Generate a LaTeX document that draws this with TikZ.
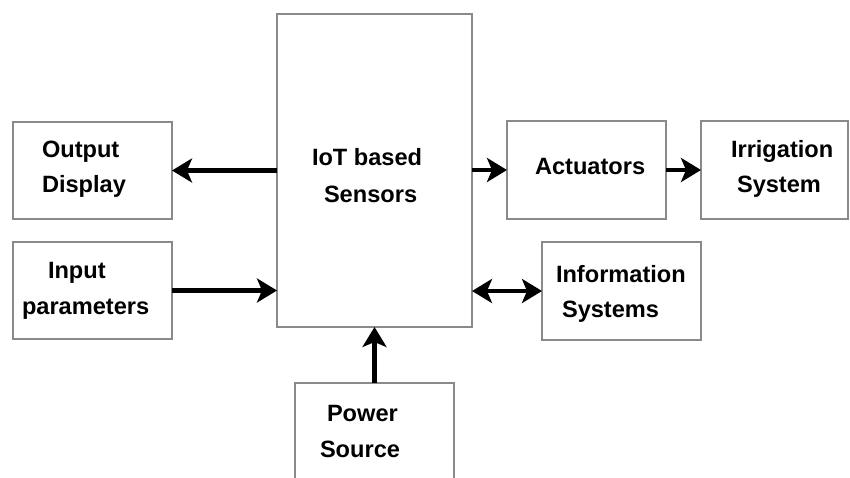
\documentclass[tikz,border=0pt]{standalone}
\usepackage{fontspec}
\setmainfont{Liberation Sans}
\usetikzlibrary{arrows.meta}
\definecolor{boxgray}{RGB}{138,138,138}
\begin{document}
\begin{tikzpicture}[x=1pt,y=-1pt,
  block/.style={draw=boxgray, line width=1.8pt, fill=white, inner sep=0pt, outer sep=0pt, anchor=north west},
  lbl/.style={anchor=base west, inner sep=0pt, outer sep=0pt, font=\fontsize{23.6}{27}\selectfont\bfseries},
  flow/.style={line width=4.5pt, -{Stealth[length=20pt,width=24pt,inset=5pt]}},
  biflow/.style={line width=4.5pt, {Stealth[length=20pt,width=24pt,inset=5pt]}-{Stealth[length=20pt,width=24pt,inset=5pt]}},
  ]
\useasboundingbox (0,0) rectangle (850,477);

% blocks
\node[block, minimum width=159pt, minimum height=97pt]  (out)  at (13,122)  {};
\node[block, minimum width=159pt, minimum height=97pt]  (inp)  at (13,242)  {};
\node[block, minimum width=195pt, minimum height=313pt] (iot)  at (277,14)  {};
\node[block, minimum width=159pt, minimum height=98pt]  (act)  at (507,121) {};
\node[block, minimum width=147pt, minimum height=98pt]  (irr)  at (701,121) {};
\node[block, minimum width=159pt, minimum height=98pt]  (info) at (542,242) {};
\node[block, minimum width=159pt, minimum height=110pt] (pow)  at (295,383) {};

% labels
\node[lbl] (outA)  at (42,157)  {Output};
\node[lbl] (outB)  at (42,192)  {Display};
\node[lbl] (inpA)  at (48,278)  {Input};
\node[lbl] (inpB)  at (22,314)  {parameters};
\node[lbl] (iotA)  at (312,165) {IoT based};
\node[lbl] (iotB)  at (324,202) {Sensors};
\node[lbl] (actA)  at (535,174) {Actuators};
\node[lbl] (irrA)  at (731,157) {Irrigation};
\node[lbl] (irrB)  at (737,192) {System};
\node[lbl] (infoA) at (556,282) {Information};
\node[lbl] (infoB) at (562,317) {Systems};
\node[lbl] (powA)  at (327,421) {Power};
\node[lbl] (powB)  at (320,457) {Source};

% connectors
\draw[flow]   (iot.west |- out.east) -- (out.east);
\draw[flow]   (inp.east) -- (iot.west |- inp.east);
\draw[flow]   (iot.east |- act.west) -- (act.west);
\draw[flow]   (act.east) -- (irr.west);
\draw[biflow] (iot.east |- info.west) -- (info.west);
\draw[flow]   (pow.north) -- (iot.south -| pow.north);
\end{tikzpicture}
\end{document}
